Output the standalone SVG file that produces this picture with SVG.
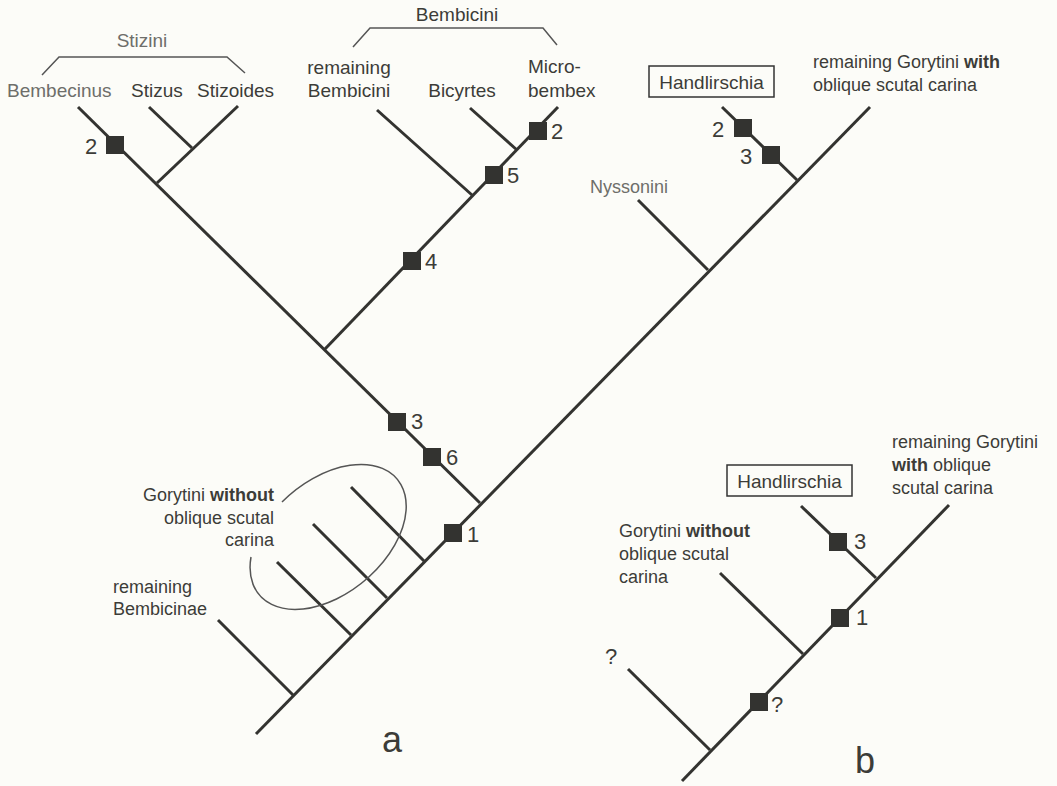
<svg xmlns="http://www.w3.org/2000/svg" width="1057" height="786" viewBox="0 0 1057 786">
<style>
text{font-family:"Liberation Sans",Arial,sans-serif;fill:#3c3c38}
.lab{font-size:19px}
.sm{font-size:18px}
.num{font-size:22px}
.big{font-size:36px}
.gray{fill:#6e6e6a}
.br{fill:none;stroke:#555;stroke-width:1.5}
.ln{fill:none;stroke:#333330;stroke-width:3;stroke-linecap:butt}
.mk{fill:#333330}
.box{fill:none;stroke:#333;stroke-width:1.5}
.b{font-weight:bold}
</style>
<rect width="1057" height="786" fill="#fcfcf8"/>
<g id="connectors">
<path class="ln" d="M256 734 L870 107"/>
<path class="ln" d="M293 695 L218 620"/>
<path class="ln" d="M351 635 L277 562"/>
<path class="ln" d="M387 598 L313 524"/>
<path class="ln" d="M424 561 L351 487"/>
<path class="ln" d="M480 503 L78 107"/>
<path class="ln" d="M157 183 L238 106"/>
<path class="ln" d="M192 148 L149 107"/>
<path class="ln" d="M325 349 L558 107"/>
<path class="ln" d="M472 195 L377 110"/>
<path class="ln" d="M517 150 L470 108"/>
<path class="ln" d="M708 270 L638 200"/>
<path class="ln" d="M797 180 L722 107"/>
<path class="ln" d="M682 781 L949 505"/>
<path class="ln" d="M710 750 L628 669"/>
<path class="ln" d="M803 654 L720 573"/>
<path class="ln" d="M876 578 L801 506"/>
</g>
<g id="brackets">
<path class="br" d="M42 75 L59 57 L227 57 L245 73"/>
<path class="br" d="M353 47 L370 28 L543 28 L557 45"/>
<path class="br" d="M282 502 A90 57 -40 1 1 251 557"/>
</g>
<g id="markers">
<rect class="mk" x="106" y="136" width="18" height="18"/>
<rect class="mk" x="529" y="122" width="18" height="18"/>
<rect class="mk" x="485" y="166" width="18" height="18"/>
<rect class="mk" x="403" y="252" width="18" height="18"/>
<rect class="mk" x="388" y="413" width="18" height="18"/>
<rect class="mk" x="423" y="448" width="18" height="18"/>
<rect class="mk" x="444" y="524" width="18" height="18"/>
<rect class="mk" x="734" y="119" width="18" height="18"/>
<rect class="mk" x="762" y="146" width="18" height="18"/>
<rect class="mk" x="829" y="533" width="18" height="18"/>
<rect class="mk" x="831" y="609" width="18" height="18"/>
<rect class="mk" x="750" y="693" width="18" height="18"/>
</g>
<g id="marker-labels">
<text x="85" y="154" class="num">2</text>
<text x="551" y="139" class="num">2</text>
<text x="507" y="183" class="num">5</text>
<text x="425" y="269" class="num">4</text>
<text x="411" y="429" class="num">3</text>
<text x="446" y="465" class="num">6</text>
<text x="467" y="542" class="num">1</text>
<text x="712" y="137" class="num">2</text>
<text x="740" y="164" class="num">3</text>
<text x="854" y="549" class="num">3</text>
<text x="856" y="625" class="num">1</text>
<text x="771" y="712" class="num">?</text>
<text x="605" y="664" class="num">?</text>
</g>
<g id="stizini">
<text class="lab gray" x="142" y="47" text-anchor="middle">Stizini</text>
<text class="lab gray" x="7" y="97">Bembecinus</text>
<text class="lab" x="131" y="97">Stizus</text>
<text class="lab" x="197" y="97">Stizoides</text>
</g>
<g id="bembicini">
<text class="lab" x="457" y="21" text-anchor="middle">Bembicini</text>
<text class="lab" x="349" y="74" text-anchor="middle">remaining</text>
<text class="lab" x="349" y="97" text-anchor="middle">Bembicini</text>
<text class="lab" x="462" y="97" text-anchor="middle">Bicyrtes</text>
<text class="lab" x="528" y="73">Micro-</text>
<text class="lab" x="528" y="97">bembex</text>
</g>
<g id="handlirschia-a">
<rect class="box" x="649" y="66" width="125" height="31"/>
<text class="lab" x="711.5" y="89" text-anchor="middle">Handlirschia</text>
</g>
<g id="gorytini-with-a">
<text class="sm" x="813" y="68">remaining Gorytini <tspan class="b">with</tspan></text>
<text class="sm" x="813" y="91">oblique scutal carina</text>
</g>
<g id="nyssonini">
<text class="sm gray" x="590" y="193">Nyssonini</text>
</g>
<g id="gorytini-without-a">
<text class="sm" x="274" y="501" text-anchor="end">Gorytini <tspan class="b">without</tspan></text>
<text class="sm" x="274" y="524" text-anchor="end">oblique scutal</text>
<text class="sm" x="274" y="546" text-anchor="end">carina</text>
</g>
<g id="bembicinae">
<text class="sm" x="113" y="593">remaining</text>
<text class="sm" x="113" y="615">Bembicinae</text>
</g>
<g id="label-a"><text class="big" x="392" y="752" text-anchor="middle">a</text></g>
<g id="handlirschia-b">
<rect class="box" x="727" y="465" width="125" height="31"/>
<text class="lab" x="789.5" y="488" text-anchor="middle">Handlirschia</text>
</g>
<g id="gorytini-with-b">
<text class="sm" x="892" y="448">remaining Gorytini</text>
<text class="sm" x="892" y="471"><tspan class="b">with</tspan> oblique</text>
<text class="sm" x="892" y="494">scutal carina</text>
</g>
<g id="gorytini-without-b">
<text class="sm" x="619" y="537">Gorytini <tspan class="b">without</tspan></text>
<text class="sm" x="619" y="560">oblique scutal</text>
<text class="sm" x="619" y="583">carina</text>
</g>
<g id="label-b"><text class="big" x="865" y="773" text-anchor="middle">b</text></g>
</svg>
